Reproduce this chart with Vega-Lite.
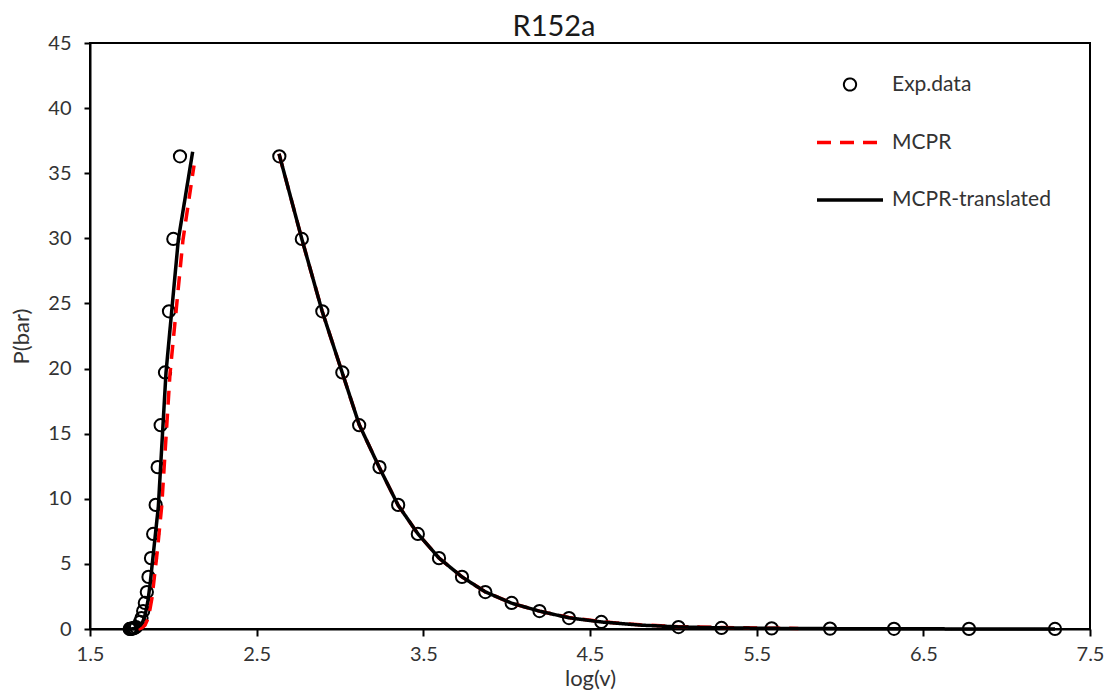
{
  "$schema": "https://vega.github.io/schema/vega-lite/v6.json",
  "width": 1000,
  "height": 586,
  "autosize": {"type": "none"},
  "padding": {"left": 90, "top": 43, "right": 18, "bottom": 63},
  "background": "white",
  "title": {"text": "R152a", "fontSize": 29, "font": "Lato", "fontWeight": "normal", "color": "#1a1a1a", "anchor": "middle", "dx": -36, "dy": 17, "offset": 8},
  "config": {
    "view": {"stroke": "black", "strokeWidth": 2},
    "font": "Lato",
    "legend": {
      "orient": "none", "legendX": 725, "legendY": 31, "padding": 0, "title": null,
      "labelFont": "Lato", "labelFontSize": 21, "labelColor": "#333333", "labelOffset": 7, "rowPadding": 12.5
    }
  },
  "datasets": {
    "exp": [
      {"series": "Exp.data", "branch": "L", "x": 2.040, "y": 36.3},
      {"series": "Exp.data", "branch": "L", "x": 2.000, "y": 29.95},
      {"series": "Exp.data", "branch": "L", "x": 1.974, "y": 24.4},
      {"series": "Exp.data", "branch": "L", "x": 1.950, "y": 19.7},
      {"series": "Exp.data", "branch": "L", "x": 1.924, "y": 15.65},
      {"series": "Exp.data", "branch": "L", "x": 1.906, "y": 12.43},
      {"series": "Exp.data", "branch": "L", "x": 1.894, "y": 9.53},
      {"series": "Exp.data", "branch": "L", "x": 1.879, "y": 7.3},
      {"series": "Exp.data", "branch": "L", "x": 1.866, "y": 5.44},
      {"series": "Exp.data", "branch": "L", "x": 1.851, "y": 4.0},
      {"series": "Exp.data", "branch": "L", "x": 1.841, "y": 2.84},
      {"series": "Exp.data", "branch": "L", "x": 1.829, "y": 2.0},
      {"series": "Exp.data", "branch": "L", "x": 1.819, "y": 1.38},
      {"series": "Exp.data", "branch": "L", "x": 1.809, "y": 0.84},
      {"series": "Exp.data", "branch": "L", "x": 1.800, "y": 0.54},
      {"series": "Exp.data", "branch": "L", "x": 1.776, "y": 0.15},
      {"series": "Exp.data", "branch": "L", "x": 1.766, "y": 0.08},
      {"series": "Exp.data", "branch": "L", "x": 1.758, "y": 0.05},
      {"series": "Exp.data", "branch": "L", "x": 1.751, "y": 0.03},
      {"series": "Exp.data", "branch": "L", "x": 1.746, "y": 0.015},
      {"series": "Exp.data", "branch": "L", "x": 1.742, "y": 0.007},
      {"series": "Exp.data", "branch": "L", "x": 1.738, "y": 0.003},
      {"series": "Exp.data", "branch": "R", "x": 2.636, "y": 36.3},
      {"series": "Exp.data", "branch": "R", "x": 2.771, "y": 29.95},
      {"series": "Exp.data", "branch": "R", "x": 2.894, "y": 24.4},
      {"series": "Exp.data", "branch": "R", "x": 3.014, "y": 19.7},
      {"series": "Exp.data", "branch": "R", "x": 3.115, "y": 15.65},
      {"series": "Exp.data", "branch": "R", "x": 3.237, "y": 12.43},
      {"series": "Exp.data", "branch": "R", "x": 3.349, "y": 9.53},
      {"series": "Exp.data", "branch": "R", "x": 3.467, "y": 7.3},
      {"series": "Exp.data", "branch": "R", "x": 3.594, "y": 5.44},
      {"series": "Exp.data", "branch": "R", "x": 3.732, "y": 4.0},
      {"series": "Exp.data", "branch": "R", "x": 3.872, "y": 2.84},
      {"series": "Exp.data", "branch": "R", "x": 4.030, "y": 2.0},
      {"series": "Exp.data", "branch": "R", "x": 4.197, "y": 1.38},
      {"series": "Exp.data", "branch": "R", "x": 4.374, "y": 0.84},
      {"series": "Exp.data", "branch": "R", "x": 4.568, "y": 0.54},
      {"series": "Exp.data", "branch": "R", "x": 5.031, "y": 0.15},
      {"series": "Exp.data", "branch": "R", "x": 5.289, "y": 0.08},
      {"series": "Exp.data", "branch": "R", "x": 5.590, "y": 0.05},
      {"series": "Exp.data", "branch": "R", "x": 5.940, "y": 0.03},
      {"series": "Exp.data", "branch": "R", "x": 6.324, "y": 0.015},
      {"series": "Exp.data", "branch": "R", "x": 6.774, "y": 0.007},
      {"series": "Exp.data", "branch": "R", "x": 7.290, "y": 0.003}
    ],
    "mcpr": [
      {"series": "MCPR", "branch": "L", "x": 1.790, "y": 0.0},
      {"series": "MCPR", "branch": "L", "x": 1.812, "y": 0.1},
      {"series": "MCPR", "branch": "L", "x": 1.830, "y": 0.3},
      {"series": "MCPR", "branch": "L", "x": 1.848, "y": 0.8},
      {"series": "MCPR", "branch": "L", "x": 1.861, "y": 1.6},
      {"series": "MCPR", "branch": "L", "x": 1.872, "y": 2.4},
      {"series": "MCPR", "branch": "L", "x": 1.889, "y": 4.3},
      {"series": "MCPR", "branch": "L", "x": 1.904, "y": 6.0},
      {"series": "MCPR", "branch": "L", "x": 1.930, "y": 9.4},
      {"series": "MCPR", "branch": "L", "x": 1.980, "y": 19.6},
      {"series": "MCPR", "branch": "L", "x": 2.058, "y": 29.9},
      {"series": "MCPR", "branch": "L", "x": 2.124, "y": 35.6},
      {"series": "MCPR", "branch": "R", "x": 2.634, "y": 36.5},
      {"series": "MCPR", "branch": "R", "x": 2.772, "y": 29.9},
      {"series": "MCPR", "branch": "R", "x": 2.893, "y": 24.4},
      {"series": "MCPR", "branch": "R", "x": 3.013, "y": 19.7},
      {"series": "MCPR", "branch": "R", "x": 3.115, "y": 15.7},
      {"series": "MCPR", "branch": "R", "x": 3.236, "y": 12.4},
      {"series": "MCPR", "branch": "R", "x": 3.349, "y": 9.5},
      {"series": "MCPR", "branch": "R", "x": 3.468, "y": 7.3},
      {"series": "MCPR", "branch": "R", "x": 3.594, "y": 5.45},
      {"series": "MCPR", "branch": "R", "x": 3.732, "y": 4.0},
      {"series": "MCPR", "branch": "R", "x": 3.872, "y": 2.85},
      {"series": "MCPR", "branch": "R", "x": 4.030, "y": 1.98},
      {"series": "MCPR", "branch": "R", "x": 4.197, "y": 1.37},
      {"series": "MCPR", "branch": "R", "x": 4.374, "y": 0.88},
      {"series": "MCPR", "branch": "R", "x": 4.568, "y": 0.56},
      {"series": "MCPR", "branch": "R", "x": 4.800, "y": 0.32},
      {"series": "MCPR", "branch": "R", "x": 5.031, "y": 0.18},
      {"series": "MCPR", "branch": "R", "x": 5.289, "y": 0.11},
      {"series": "MCPR", "branch": "R", "x": 5.590, "y": 0.06},
      {"series": "MCPR", "branch": "R", "x": 5.750, "y": 0.045}
    ],
    "trans": [
      {"series": "MCPR-translated", "branch": "L", "x": 1.735, "y": 0.0},
      {"series": "MCPR-translated", "branch": "L", "x": 1.760, "y": 0.02},
      {"series": "MCPR-translated", "branch": "L", "x": 1.782, "y": 0.1},
      {"series": "MCPR-translated", "branch": "L", "x": 1.803, "y": 0.3},
      {"series": "MCPR-translated", "branch": "L", "x": 1.818, "y": 0.6},
      {"series": "MCPR-translated", "branch": "L", "x": 1.833, "y": 1.2},
      {"series": "MCPR-translated", "branch": "L", "x": 1.848, "y": 2.2},
      {"series": "MCPR-translated", "branch": "L", "x": 1.861, "y": 3.5},
      {"series": "MCPR-translated", "branch": "L", "x": 1.876, "y": 5.3},
      {"series": "MCPR-translated", "branch": "L", "x": 1.910, "y": 9.4},
      {"series": "MCPR-translated", "branch": "L", "x": 1.956, "y": 19.7},
      {"series": "MCPR-translated", "branch": "L", "x": 2.030, "y": 29.9},
      {"series": "MCPR-translated", "branch": "L", "x": 2.116, "y": 36.65},
      {"series": "MCPR-translated", "branch": "R", "x": 2.634, "y": 36.5},
      {"series": "MCPR-translated", "branch": "R", "x": 2.772, "y": 29.9},
      {"series": "MCPR-translated", "branch": "R", "x": 2.893, "y": 24.4},
      {"series": "MCPR-translated", "branch": "R", "x": 3.013, "y": 19.7},
      {"series": "MCPR-translated", "branch": "R", "x": 3.115, "y": 15.7},
      {"series": "MCPR-translated", "branch": "R", "x": 3.236, "y": 12.4},
      {"series": "MCPR-translated", "branch": "R", "x": 3.349, "y": 9.5},
      {"series": "MCPR-translated", "branch": "R", "x": 3.468, "y": 7.3},
      {"series": "MCPR-translated", "branch": "R", "x": 3.594, "y": 5.45},
      {"series": "MCPR-translated", "branch": "R", "x": 3.732, "y": 4.0},
      {"series": "MCPR-translated", "branch": "R", "x": 3.872, "y": 2.85},
      {"series": "MCPR-translated", "branch": "R", "x": 4.030, "y": 1.98},
      {"series": "MCPR-translated", "branch": "R", "x": 4.197, "y": 1.37},
      {"series": "MCPR-translated", "branch": "R", "x": 4.374, "y": 0.86},
      {"series": "MCPR-translated", "branch": "R", "x": 4.568, "y": 0.54},
      {"series": "MCPR-translated", "branch": "R", "x": 4.800, "y": 0.3},
      {"series": "MCPR-translated", "branch": "R", "x": 5.031, "y": 0.16},
      {"series": "MCPR-translated", "branch": "R", "x": 5.289, "y": 0.09},
      {"series": "MCPR-translated", "branch": "R", "x": 5.590, "y": 0.05},
      {"series": "MCPR-translated", "branch": "R", "x": 5.940, "y": 0.03},
      {"series": "MCPR-translated", "branch": "R", "x": 6.324, "y": 0.015},
      {"series": "MCPR-translated", "branch": "R", "x": 6.774, "y": 0.007},
      {"series": "MCPR-translated", "branch": "R", "x": 7.290, "y": 0.003}
    ]
  },
  "encoding": {
    "x": {
      "field": "x", "type": "quantitative",
      "scale": {"domain": [1.5, 7.5], "nice": false, "zero": false},
      "axis": {
        "title": "log(v)", "values": [1.5, 2.5, 3.5, 4.5, 5.5, 6.5, 7.5], "format": ".1f",
        "grid": false, "labelFlush": false, "labelOverlap": false,
        "domainColor": "black", "domainWidth": 2, "tickColor": "black", "tickWidth": 2, "tickSize": 7,
        "labelFont": "Lato", "labelFontSize": 20, "labelColor": "#333333", "labelPadding": 8,
        "titleFont": "Lato", "titleFontSize": 22, "titleFontWeight": "normal", "titleColor": "#333333", "titlePadding": 4
      }
    },
    "y": {
      "field": "y", "type": "quantitative",
      "scale": {"domain": [0, 45], "nice": false},
      "axis": {
        "title": "P(bar)", "values": [0, 5, 10, 15, 20, 25, 30, 35, 40, 45], "format": "d",
        "grid": false, "labelOverlap": false,
        "domainColor": "black", "domainWidth": 2, "tickColor": "black", "tickWidth": 2, "tickSize": 6,
        "labelFont": "Lato", "labelFontSize": 20, "labelColor": "#333333", "labelPadding": 13,
        "titleFont": "Lato", "titleFontSize": 22, "titleFontWeight": "normal", "titleColor": "#333333", "titlePadding": 14
      }
    },
    "color": {
      "field": "series", "type": "nominal",
      "scale": {"domain": ["Exp.data", "MCPR", "MCPR-translated"], "range": ["black", "#ff0000", "black"]},
      "legend": {"title": null}
    },
    "strokeWidth": {
      "field": "series", "type": "nominal",
      "scale": {"type": "ordinal", "domain": ["Exp.data", "MCPR", "MCPR-translated"], "range": [2, 3.5, 3.5]},
      "legend": {"title": null}
    }
  },
  "layer": [
    {
      "data": {"name": "exp"},
      "mark": {"type": "point", "filled": false, "opacity": 1},
      "encoding": {
        "shape": {
          "field": "series", "type": "nominal",
          "scale": {"domain": ["Exp.data", "MCPR", "MCPR-translated"], "range": ["circle", "stroke", "stroke"]},
          "legend": {"title": null}
        },
        "size": {
          "field": "series", "type": "nominal",
          "scale": {"type": "ordinal", "domain": ["Exp.data", "MCPR", "MCPR-translated"], "range": [150, 4356, 4356]},
          "legend": {"title": null}
        }
      }
    },
    {
      "data": {"name": "mcpr"},
      "mark": {"type": "line"},
      "encoding": {
        "detail": {"field": "branch"},
        "strokeDash": {
          "field": "series", "type": "nominal",
          "scale": {"domain": ["Exp.data", "MCPR", "MCPR-translated"], "range": [[1, 0], [14, 9], [1, 0]]},
          "legend": {"title": null}
        }
      }
    },
    {
      "data": {"name": "trans"},
      "mark": {"type": "line"},
      "encoding": {
        "detail": {"field": "branch"},
        "strokeDash": {
          "field": "series", "type": "nominal",
          "scale": {"domain": ["Exp.data", "MCPR", "MCPR-translated"], "range": [[1, 0], [14, 9], [1, 0]]},
          "legend": {"title": null}
        }
      }
    }
  ]
}
